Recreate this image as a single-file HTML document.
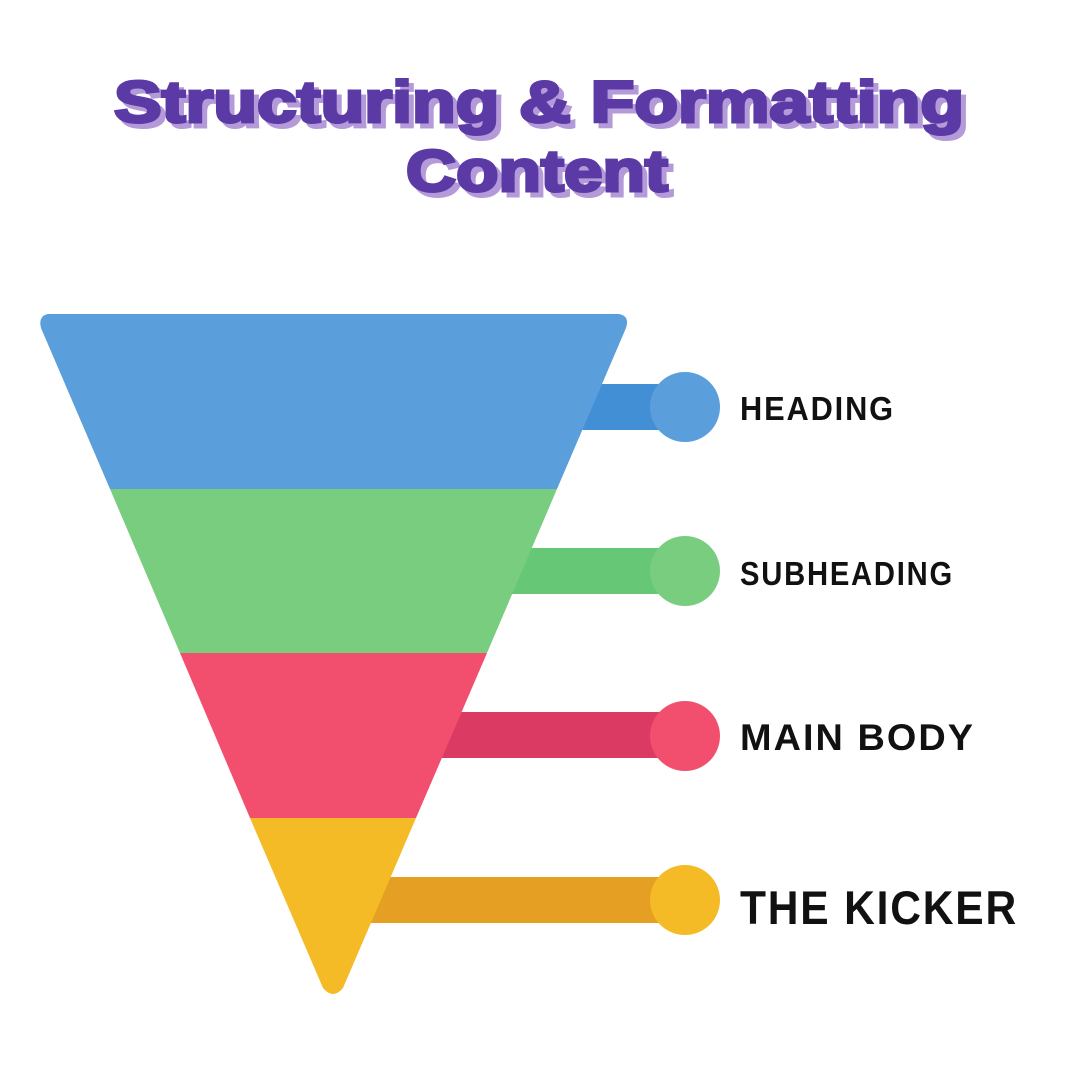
<!DOCTYPE html>
<html><head><meta charset="utf-8"><style>
html,body{margin:0;padding:0;background:#fff;}
svg{display:block}
</style></head><body>
<svg width="1080" height="1080" viewBox="0 0 1080 1080" xmlns="http://www.w3.org/2000/svg">
<rect width="1080" height="1080" fill="#fff"/>
<g font-family="Liberation Sans, sans-serif" font-weight="bold" font-size="58" stroke-width="3" lengthAdjust="spacingAndGlyphs">
<text x="119" y="127" fill="#b49ad8" stroke="#b49ad8" textLength="850" lengthAdjust="spacingAndGlyphs">Structuring &amp; Formatting</text>
<text x="411" y="196" fill="#b49ad8" stroke="#b49ad8" textLength="262" lengthAdjust="spacingAndGlyphs">Content</text>
<text x="114" y="122" fill="#5b3aa6" stroke="#5b3aa6" textLength="850" lengthAdjust="spacingAndGlyphs">Structuring &amp; Formatting</text>
<text x="406" y="191" fill="#5b3aa6" stroke="#5b3aa6" textLength="262" lengthAdjust="spacingAndGlyphs">Content</text>
</g>
<rect x="540" y="384" width="145" height="46" fill="#438fd6"/>
<rect x="480" y="548" width="205" height="46" fill="#66c877"/>
<rect x="410" y="712" width="275" height="46" fill="#db3b63"/>
<rect x="340" y="877" width="345" height="46" fill="#e5a024"/>
<circle cx="685" cy="407" r="35" fill="#5a9fdb"/>
<circle cx="685" cy="571" r="35" fill="#79cd7e"/>
<circle cx="685" cy="736" r="35" fill="#f24f6f"/>
<circle cx="685" cy="900" r="35" fill="#f5bb27"/>
<path d="M48 314 L619 314 Q630 316 626 328 L557 489 L110 489 L41 328 Q38 316 48 314 Z" fill="#5a9fdb"/>
<polygon points="110,489 557,489 487,653 180,653" fill="#79cd7e"/>
<polygon points="180,653 487,653 416,818 250,818" fill="#f24f6f"/>
<path d="M250 818 L416 818 L343 988 Q333 1000 323 988 Z" fill="#f5bb27"/>
<g font-family="Liberation Sans, sans-serif" font-weight="bold" fill="#111">
<text x="740" y="420" font-size="33" letter-spacing="2" textLength="155" lengthAdjust="spacingAndGlyphs">HEADING</text>
<text x="740" y="585" font-size="33" letter-spacing="2" textLength="214" lengthAdjust="spacingAndGlyphs">SUBHEADING</text>
<text x="740" y="750" font-size="37" letter-spacing="2" textLength="235" lengthAdjust="spacingAndGlyphs">MAIN BODY</text>
<text x="740" y="924" font-size="47" letter-spacing="2" textLength="278" lengthAdjust="spacingAndGlyphs">THE KICKER</text>
</g>
</svg>
</body></html>
